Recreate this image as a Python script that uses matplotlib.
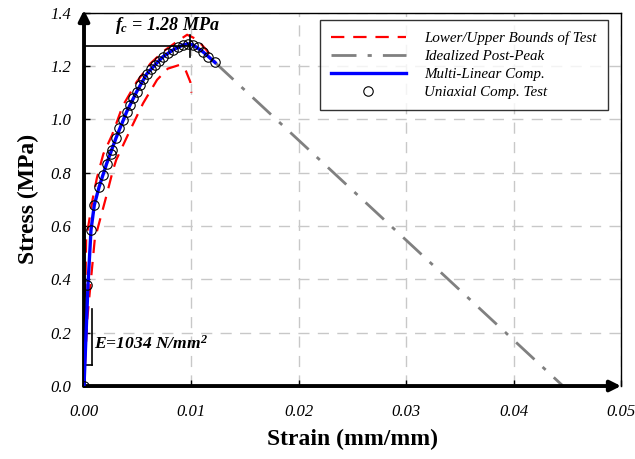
import numpy as np
import matplotlib
matplotlib.use('Agg')
import matplotlib.pyplot as plt

plt.rcParams['font.family'] = ['Liberation Serif', 'DejaVu Serif']
plt.rcParams['mathtext.fontset'] = 'custom'
plt.rcParams['mathtext.it'] = 'Liberation Serif:italic:bold'
plt.rcParams['mathtext.rm'] = 'Liberation Serif:italic:bold'
plt.rcParams['mathtext.bf'] = 'Liberation Serif:italic:bold'

# uniaxial compression test points (strain, stress)
test_strain = [0.0, 0.00025, 0.00065, 0.00096, 0.0014, 0.00174, 0.0021, 0.0025,
               0.00258, 0.00298, 0.00329, 0.00363, 0.00398, 0.00428, 0.00456,
               0.00491, 0.00521, 0.00549, 0.00584, 0.00621, 0.00661, 0.00698,
               0.00736, 0.00782, 0.00829, 0.00875, 0.00922, 0.00968, 0.01015,
               0.01061, 0.01108, 0.01155, 0.0122]
test_stress = [0.0, 0.379, 0.585, 0.679, 0.746, 0.791, 0.833, 0.870,
               0.885, 0.930, 0.968, 0.998, 1.029, 1.054, 1.080,
               1.104, 1.129, 1.151, 1.170, 1.189, 1.204, 1.220,
               1.235, 1.249, 1.260, 1.272, 1.279, 1.283, 1.279,
               1.272, 1.253, 1.234, 1.213]

# multi-linear compression model
ml_strain = [0.0, 0.00037, 0.00065, 0.00096, 0.0014, 0.0021, 0.00298, 0.00398,
             0.00491, 0.00584, 0.00661, 0.00736, 0.00829, 0.00922, 0.00968,
             0.01015, 0.01108, 0.0122]
ml_stress = [0.0, 0.379, 0.585, 0.679, 0.746, 0.833, 0.930, 1.029,
             1.104, 1.170, 1.204, 1.235, 1.260, 1.279, 1.283,
             1.279, 1.253, 1.213]

# upper / lower bounds of the test
upper_strain = [0.0, 0.0001, 0.0002, 0.0008, 0.0012, 0.0018, 0.0026, 0.0036,
                0.0049, 0.0062, 0.0074, 0.0086, 0.0096, 0.0105, 0.0114, 0.0122]
upper_stress = [0.0, 0.30, 0.55, 0.70, 0.78, 0.87, 0.94, 1.05,
                1.14, 1.21, 1.255, 1.29, 1.317, 1.30, 1.26, 1.216]
lower_strain = [0.0, 0.0003, 0.001, 0.002, 0.0027, 0.0030, 0.0043, 0.0055,
                0.0068, 0.0078, 0.0089, 0.0095, 0.0099, 0.0100]
lower_stress = [0.0, 0.25, 0.55, 0.70, 0.81, 0.848, 0.96, 1.06,
                1.148, 1.19, 1.204, 1.18, 1.14, 1.10]

# idealized post-peak branch
post_strain = [0.0122, 0.0446]
post_stress = [1.213, 0.0]

peak_strain = 0.0099
peak_stress = 1.275
e_mark_strain = 0.00075
e_mark_stress = [0.079, 0.29]

x_ticks = [0.00, 0.01, 0.02, 0.03, 0.04, 0.05]
y_ticks = [0.0, 0.2, 0.4, 0.6, 0.8, 1.0, 1.2, 1.4]

fig = plt.figure(figsize=(6.35, 4.59), dpi=100)
ax = fig.add_axes([0.1323, 0.159, 0.8457, 0.8135])

ax.plot(upper_strain, upper_stress, color='#ff0000', lw=1.6,
        dashes=(6, 4), label='Lower/Upper Bounds of Test', zorder=3)
ax.plot(lower_strain, lower_stress, color='#ff0000', lw=1.6,
        dashes=(6, 4), zorder=3)
ax.plot(post_strain, post_stress, color='#808080', lw=2.0,
        dashes=(9, 4, 1.5, 4), label='Idealized Post-Peak', zorder=3)
ax.plot(ml_strain, ml_stress, color='#0000ff', lw=2.4,
        label='Multi-Linear Comp.', zorder=4)
ax.plot(test_strain, test_stress, 'o', mfc='none', mec='black', ms=6.8,
        mew=0.8, label='Uniaxial Comp. Test', zorder=5)

# peak marker lines
ax.plot([0, peak_strain], [peak_stress, peak_stress], color='black', lw=1.2,
        zorder=6)
ax.plot([peak_strain, peak_strain], [1.234, 1.317], color='black', lw=1.2,
        zorder=6)
ax.text(0.0029, 1.352, r'$f_c$ = 1.28 MPa', fontsize=13, fontweight='bold',
        style='italic', ha='left', va='center')

# elastic modulus marker
ax.plot([e_mark_strain, e_mark_strain], e_mark_stress, color='black', lw=1.2)
ax.plot([0.0002, e_mark_strain], [e_mark_stress[0], e_mark_stress[0]],
        color='black', lw=1.2)
ax.text(0.00093, 0.16, r'E=1034 N/mm$^2$', fontsize=12.6, fontweight='bold',
        style='italic', ha='left', va='center')

ax.set_xlim(0, 0.05)
ax.set_ylim(0, 1.4)
ax.set_xticks(x_ticks)
ax.set_yticks(y_ticks)
ax.set_xticklabels([f'{v:.2f}' for v in x_ticks], style='italic', fontsize=12)
ax.set_yticklabels([f'{v:.1f}' for v in y_ticks], style='italic', fontsize=12)
ax.tick_params(direction='in', length=4, width=1, pad=9)
ax.tick_params(axis='x', pad=13)
ax.grid(True, color='#c8c8c8', lw=1.0, dashes=(8, 6))

for side in ['top', 'right']:
    ax.spines[side].set_linewidth(1.0)
for side in ['left', 'bottom']:
    ax.spines[side].set_visible(False)

# thick axis arrows
ax.annotate('', xy=(0.05, 0), xytext=(0, 0), annotation_clip=False,
            arrowprops=dict(arrowstyle='-|>', lw=2.8, color='black',
                            mutation_scale=16, shrinkA=0, shrinkB=0))
ax.annotate('', xy=(0, 1.41), xytext=(0, 0), annotation_clip=False,
            arrowprops=dict(arrowstyle='-|>', lw=2.8, color='black',
                            mutation_scale=16, shrinkA=0, shrinkB=0))

ax.set_xlabel('Strain (mm/mm)', fontsize=17, fontweight='bold', labelpad=6)
ax.set_ylabel('Stress (MPa)', fontsize=17, fontweight='bold', labelpad=8)

leg = ax.legend(loc='upper right', bbox_to_anchor=(0.989, 1.0),
                prop={'style': 'italic', 'size': 10.8}, frameon=True,
                fancybox=False, edgecolor='black', handlelength=5.0,
                borderpad=0.75, labelspacing=0.3, handletextpad=1.2)
leg.get_frame().set_linewidth(1.0)

fig.savefig('out.png', dpi=100)
